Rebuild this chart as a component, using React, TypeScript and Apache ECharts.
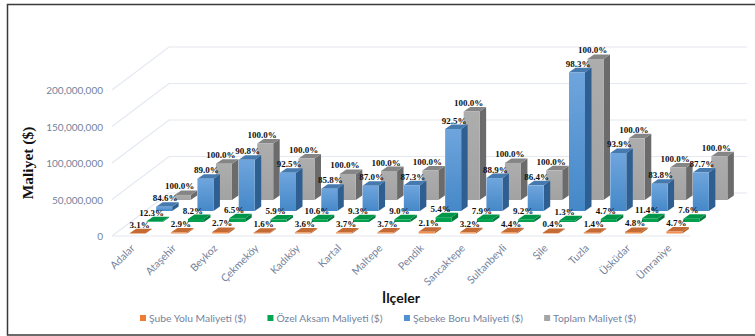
import React, { useEffect, useRef } from "react";
import * as echarts from "echarts";

const districts = ["Adalar", "Ataşehir", "Beykoz", "Çekmeköy", "Kadıköy", "Kartal", "Maltepe", "Pendik", "Sancaktepe", "Sultanbeyli", "Şile", "Tuzla", "Üsküdar", "Ümraniye"];

const branchCost = [220000, 1440000, 2090000, 910000, 1290000, 1470000, 1500000, 2550000, 1630000, 1790000, 770000, 1190000, 2140000, 2820000];
const specialCost = [860000, 4080000, 5030000, 3350000, 3780000, 3690000, 3650000, 6560000, 4010000, 3740000, 2510000, 3980000, 5070000, 4560000];
const networkCost = [5920000, 44320000, 70280000, 52540000, 30630000, 34540000, 35360000, 112300000, 45160000, 35160000, 190010000, 79530000, 37290000, 52620000];
const totalCost = [7000000, 49800000, 77400000, 56800000, 35700000, 39700000, 40500000, 121400000, 50800000, 40700000, 193300000, 84700000, 44500000, 60000000];

const branchShare = ["3.1%", "2.9%", "2.7%", "1.6%", "3.6%", "3.7%", "3.7%", "2.1%", "3.2%", "4.4%", "0.4%", "1.4%", "4.8%", "4.7%"];
const specialShare = ["12.3%", "8.2%", "6.5%", "5.9%", "10.6%", "9.3%", "9.0%", "5.4%", "7.9%", "9.2%", "1.3%", "4.7%", "11.4%", "7.6%"];
const networkShare = ["84.6%", "89.0%", "90.8%", "92.5%", "85.8%", "87.0%", "87.3%", "92.5%", "88.9%", "86.4%", "98.3%", "93.9%", "83.8%", "87.7%"];
const totalShare = ["100.0%", "100.0%", "100.0%", "100.0%", "100.0%", "100.0%", "100.0%", "100.0%", "100.0%", "100.0%", "100.0%", "100.0%", "100.0%", "100.0%"];

const gridValues = [0, 50000000, 100000000, 150000000, 200000000];

const WALL_DX = 57;
const WALL_DY = 43;
const BAR_W = 16;
const SIDE_DX = 6.5;
const SIDE_DY = 4.5;
const AXIS_TEXT = "#75839c";

type Row = {
  name: string;
  values: number[];
  labels: string[];
  dx: number;
  dy: number;
  swatch: string;
  frontTop: string;
  frontBottom: string;
  side: string;
  top: string;
  labelShift: number;
};

// Rows run from the front of the floor to the back wall.
const rows: Row[] = [
  { name: "Şube Yolu Maliyeti ($)", values: branchCost, labels: branchShare, dx: 5, dy: 2.5, swatch: "#ed7d31", frontTop: "#f0965a", frontBottom: "#ec8a48", side: "#b8622c", top: "#c46a35", labelShift: 2 },
  { name: "Özel Aksam Maliyeti ($)", values: specialCost, labels: specialShare, dx: 22, dy: 14, swatch: "#00a650", frontTop: "#00a04c", frontBottom: "#00a04c", side: "#007a3a", top: "#00964a", labelShift: -3 },
  { name: "Şebeke Boru Maliyeti ($)", values: networkCost, labels: networkShare, dx: 31.5, dy: 25, swatch: "#4f90d0", frontTop: "#6fa5dd", frontBottom: "#4588c8", side: "#2f5f90", top: "#4679ad", labelShift: 1 },
  { name: "Toplam Maliyet ($)", values: totalCost, labels: totalShare, dx: 50, dy: 36, swatch: "#a5a5a5", frontTop: "#adadad", frontBottom: "#a2a2a2", side: "#6b6b6b", top: "#858585", labelShift: -3 },
];

function barSeries(row: Row) {
  return {
    type: "custom",
    name: row.name,
    itemStyle: { color: row.swatch },
    clip: false,
    silent: true,
    encode: { x: 0, y: 1 },
    data: row.values.map((v, i) => [i, v]),
    renderItem: (_params: any, api: any) => {
      const idx = api.value(0);
      const base = api.coord([idx, 0]);
      const head = api.coord([idx, api.value(1)]);
      const x0 = base[0] - BAR_W / 2 + row.dx;
      const x1 = x0 + BAR_W;
      const yb = base[1] - row.dy;
      const yt = head[1] - row.dy;
      return {
        type: "group",
        children: [
          {
            type: "polygon",
            shape: { points: [[x1, yb], [x1 + SIDE_DX, yb - SIDE_DY], [x1 + SIDE_DX, yt - SIDE_DY], [x1, yt]] },
            style: { fill: row.side },
          },
          {
            type: "polygon",
            shape: { points: [[x0, yt], [x1, yt], [x1 + SIDE_DX, yt - SIDE_DY], [x0 + SIDE_DX, yt - SIDE_DY]] },
            style: { fill: row.top },
          },
          {
            type: "rect",
            shape: { x: x0, y: yt, width: BAR_W, height: Math.max(yb - yt, 0.5) },
            style: {
              fill: new echarts.graphic.LinearGradient(0, 0, 0, 1, [
                { offset: 0, color: row.frontTop },
                { offset: 1, color: row.frontBottom },
              ]),
            },
          },
          {
            type: "text",
            z2: 100,
            style: {
              x: (x0 + x1) / 2 + row.labelShift,
              y: yt - 8.5,
              text: row.labels[idx],
              fill: "#111111",
              font: "bold 9px 'Liberation Serif'",
              align: "center",
              verticalAlign: "middle",
            },
          },
        ],
      };
    },
  };
}

// Wall gridlines: front-left corner, back-left corner, then along the back wall.
const wallSeries = {
  type: "custom",
  clip: false,
  silent: true,
  encode: { x: 0, y: 1 },
  data: gridValues.map((v) => [0, v]),
  renderItem: (params: any, api: any) => {
    const y = api.coord([0, api.value(1)])[1];
    const left = params.coordSys.x;
    const right = left + params.coordSys.width;
    const lineStyle = { stroke: "#e4e8f0", lineWidth: 1.2, fill: "none" };
    const children: any[] = [
      {
        type: "polyline",
        shape: { points: [[left, y], [left + WALL_DX, y - WALL_DY], [right + WALL_DX, y - WALL_DY]] },
        style: lineStyle,
      },
    ];
    if (api.value(1) === 0) {
      children.push({
        type: "line",
        shape: { x1: left, y1: y, x2: right, y2: y },
        style: lineStyle,
      });
    }
    return { type: "group", children };
  },
};

export default function App() {
  const ref = useRef<HTMLDivElement>(null);

  useEffect(() => {
    document.body.style.margin = "0";
    const chart = echarts.init(ref.current!, null, { renderer: "svg" });
    chart.setOption({
      animation: false,
      backgroundColor: "#ffffff",
      grid: { left: 112, right: 65, top: 90, bottom: 100, containLabel: false },
      legend: {
        left: 135,
        top: 308,
        itemWidth: 6,
        itemHeight: 6,
        itemGap: 21,
        icon: "rect",
        data: rows.map((r) => r.name),
        selectedMode: false,
        textStyle: { color: AXIS_TEXT, fontFamily: "Lato", fontSize: 10.3, padding: [0, 0, 0, -2] },
      },
      xAxis: {
        type: "category",
        data: districts,
        name: "İlçeler",
        nameLocation: "middle",
        nameGap: 47,
        nameTextStyle: { fontFamily: "Lato", fontWeight: "bold", fontSize: 14, color: "#111111" },
        axisLine: { show: false },
        axisTick: { show: false },
        splitLine: { show: false },
        axisLabel: { interval: 0, rotate: 45, color: AXIS_TEXT, fontFamily: "Lato", fontSize: 10.5, margin: 10 },
      },
      yAxis: {
        type: "value",
        min: 0,
        max: 200000000,
        interval: 50000000,
        name: "Maliyet ($)",
        nameLocation: "middle",
        nameGap: 44,
        nameTextStyle: { fontFamily: "Liberation Serif", fontWeight: "bold", fontSize: 15.5, color: "#111111" },
        axisLine: { show: false },
        axisTick: { show: false },
        splitLine: { show: false },
        axisLabel: {
          color: AXIS_TEXT,
          fontFamily: "Lato",
          fontSize: 10,
          margin: 9,
          formatter: (v: number) => v.toLocaleString("en-US"),
        },
      },
      graphic: [
        {
          type: "rect",
          silent: true,
          z: 50,
          shape: { x: 7.5, y: 4.5, width: 770, height: 330.5 },
          style: { fill: "none", stroke: "#3a3a3a", lineWidth: 1.5 },
        },
      ],
      series: [wallSeries, ...[...rows].reverse().map(barSeries)],
    });
    return () => chart.dispose();
  }, []);

  return <div ref={ref} style={{ width: 755, height: 336 }} />;
}
